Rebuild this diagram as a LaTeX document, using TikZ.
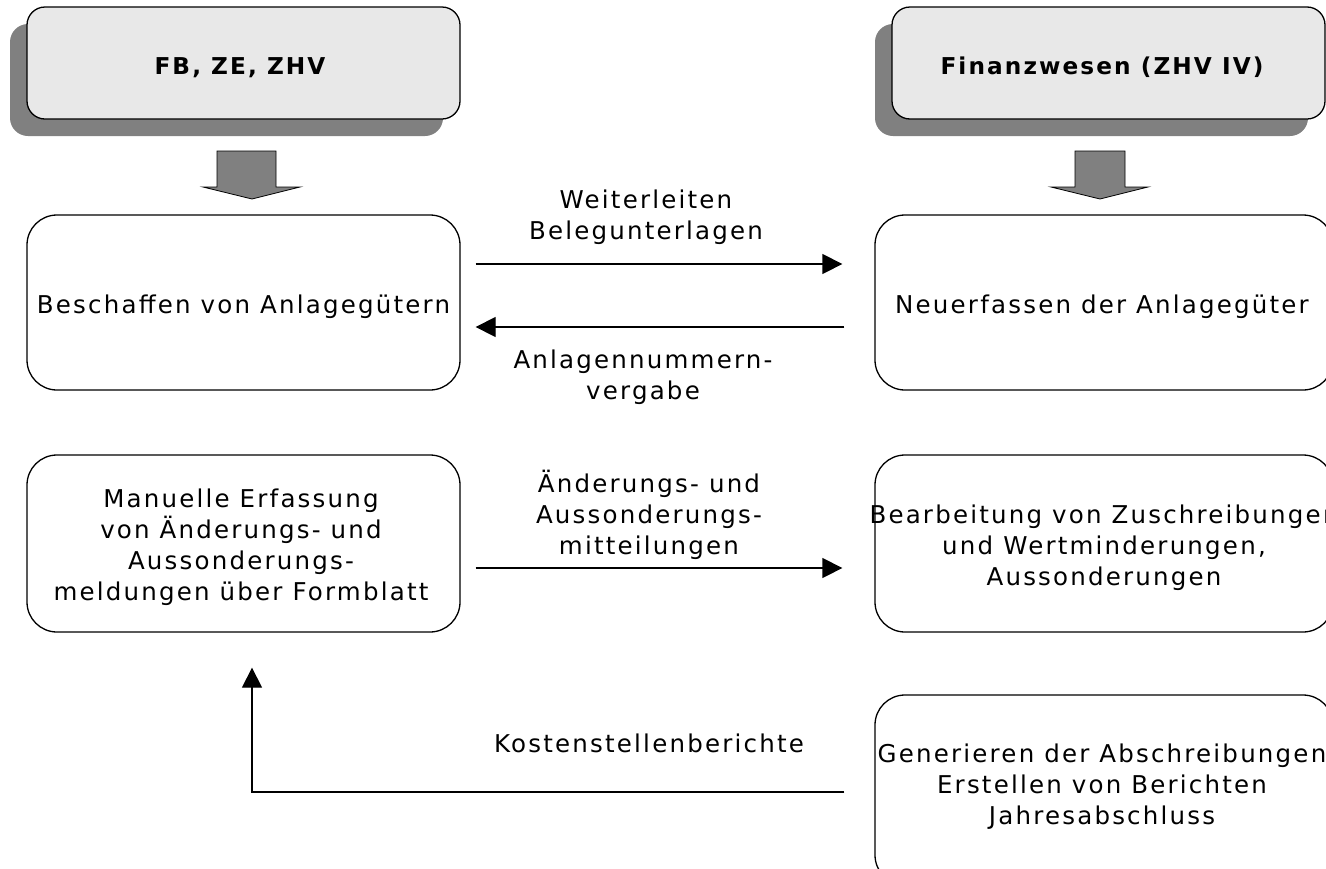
\documentclass[tikz,border=0pt]{standalone}
\usepackage{fontspec}
\setmainfont{DejaVu Sans}[LetterSpace=9]
\usetikzlibrary{arrows.meta,shadows,calc}
\definecolor{hdrfill}{HTML}{E8E8E8}
\definecolor{shd}{HTML}{808080}
\tikzset{
  hdr/.style={draw=black, line width=1.3pt, fill=hdrfill, rounded corners=18pt,
    minimum width=433pt, minimum height=112pt, inner sep=0pt},
  hdrshadow/.style={drop shadow={shadow xshift=-17pt, shadow yshift=-17pt, fill=shd, opacity=1}},
  proc/.style={draw=black, line width=1.3pt, fill=white, rounded corners=30pt, inner sep=0pt},
  lbl/.style={align=center, inner sep=0pt, font=\fontsize{24.5}{31}\selectfont},
  hlbl/.style={inner sep=0pt, font=\fontsize{23.2}{31}\selectfont\bfseries},
  arr/.style={line width=1.3pt, -{Triangle[length=20pt,width=20pt]}},
  blk/.style={draw=black, line width=0.8pt, fill=shd},
}
\begin{document}
\begin{tikzpicture}[x=1pt,y=-1pt]
\useasboundingbox (0,0) rectangle (1326,868);
\clip (0,0) rectangle (1326,868);
% headers
\node[hdr, hdrshadow] (h1) at (243.5,63) {};
\node[hlbl, anchor=base] (t1) at (240,74) {FB, ZE, ZHV};
\node[hdr, hdrshadow] (h2) at (1108.5,63) {};
\node[hlbl, anchor=base] (t2) at (1102,74) {Finanzwesen (ZHV IV)};
% block arrows
\draw[blk] (217,151) -- (276,151) -- (276,187) -- (300,187) -- (252,199) -- (203,187) -- (217,187) -- cycle;
\draw[blk] (1075,151) -- (1125,151) -- (1125,187) -- (1148,187) -- (1100,199) -- (1051,187) -- (1075,187) -- cycle;
% process boxes
\node[proc, minimum width=433pt, minimum height=175pt] (b1) at (243.5,302.5) {};
\node[lbl, anchor=base] (t3) at (243.5,313) {Beschaffen von Anlagegütern};
\node[proc, minimum width=458pt, minimum height=175pt] (b2) at (1104,302.5) {};
\node[lbl, anchor=base] (t4) at (1102,313) {Neuerfassen der Anlagegüter};
\node[proc, minimum width=433pt, minimum height=177pt] (b3) at (243.5,543.5) {};
\node[lbl] (t5) at (241,547.3) {Manuelle Erfassung\\von Änderungs- und\\Aussonderungs-\\meldungen über Formblatt};
\node[proc, minimum width=458pt, minimum height=177pt] (b4) at (1104,543.5) {};
\node[lbl] (t6) at (1104,547.8) {Bearbeitung von Zuschreibungen\\und Wertminderungen,\\Aussonderungen};
\node[proc, minimum width=458pt, minimum height=190pt] (b5) at (1104,790) {};
\node[lbl] (t7) at (1102,786.5) {Generieren der Abschreibungen\\Erstellen von Berichten\\Jahresabschluss};
% connector coordinates
\coordinate (r1) at (0,264);
\coordinate (r2) at (0,327);
\coordinate (r3) at (0,568);
\coordinate (r4) at (0,792);
\coordinate (kx) at (252,0);
\draw[arr, shorten <=15pt, shorten >=32pt] (b1.east |- r1) -- (b2.west |- r1);
\draw[arr, shorten <=30pt, shorten >=15pt] (b2.west |- r2) -- (b1.east |- r2);
\draw[arr, shorten <=15pt, shorten >=32pt] (b3.east |- r3) -- (b4.west |- r3);
\draw[arr, shorten <=30pt, shorten >=35pt] (b5.west |- r4) -- (kx |- r4) -- (kx |- b3.south);
% labels
\node[lbl] (l1) at (646,216.8) {Weiterleiten\\Belegunterlagen};
\node[lbl] (l2) at (643,377.3) {Anlagennummern-\\vergabe};
\node[lbl] (l3) at (649,514.8) {Änderungs- und\\Aussonderungs-\\mitteilungen};
\node[lbl, anchor=base] (l4) at (649,752) {Kostenstellenberichte};
\end{tikzpicture}
\end{document}
